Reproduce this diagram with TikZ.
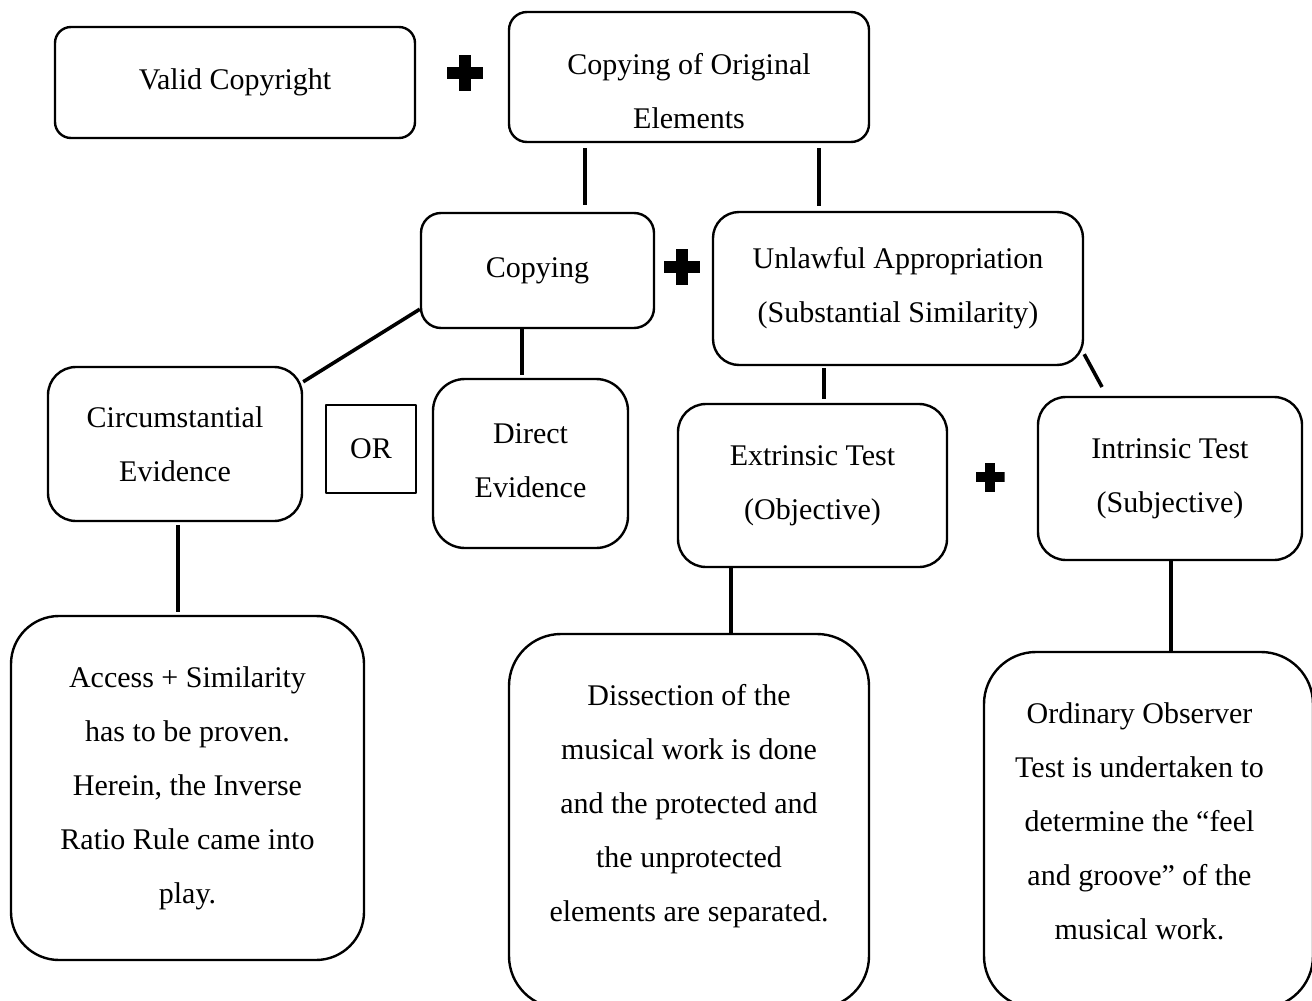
\documentclass[tikz,border=0pt]{standalone}
\usepackage{fontspec}
\setmainfont{Liberation Serif}
\usetikzlibrary{calc}

\tikzset{
    plussign/.style = {
        minimum size = #1,
        inner sep = 0pt,
        path picture = {
            \fill ($(path picture bounding box.south west)!0.32!(path picture bounding box.north west)$)
                rectangle ($(path picture bounding box.south east)!0.68!(path picture bounding box.north east)$);
            \fill ($(path picture bounding box.south west)!0.33!(path picture bounding box.south east)$)
                rectangle ($(path picture bounding box.north west)!0.67!(path picture bounding box.north east)$);
        }
    }
}

\begin{document}
\begin{tikzpicture}[
            x = 0.5pt, y = -0.5pt, % one unit = one pixel, y downwards
            font = \fontsize{15pt}{27pt}\selectfont,
            line join = round
        ]

        \tikzstyle{box}=[
            draw = black,
            line width = 1.2pt,
            align = center,
            inner sep = 0pt
        ]
        \tikzstyle{bigbox}=[box, rounded corners = 25pt]
        \tikzstyle{boxtext}=[align = center, inner sep = 0pt, font = \fontsize{15pt}{27pt}\selectfont]
        \tikzstyle{link}=[draw = black, line width = 1.8pt]

        \useasboundingbox (0,0) rectangle (1312,1001);
        \clip (0,0) rectangle (1312,1001);

        % top row
        \node[box, rounded corners = 8pt, minimum width = 180pt, minimum height = 55.5pt] (valid) at (235,82.5) {Valid Copyright};
        \node[box, rounded corners = 9pt, minimum width = 180pt, minimum height = 65pt,
              label = {[boxtext, yshift = -7pt]center:{Copying of Original\\Elements}}] (orig) at (689,77) {};

        % second row
        \node[box, rounded corners = 10pt, minimum width = 116.5pt, minimum height = 57.5pt] (cpy) at (537.5,270.5) {Copying};
        \node[box, rounded corners = 13pt, minimum width = 185pt, minimum height = 76.5pt] (unl) at (898,288.5) {Unlawful Appropriation\\(Substantial Similarity)};

        % third row
        \node[box, rounded corners = 14pt, minimum width = 127pt, minimum height = 77pt] (circ) at (175,444) {Circumstantial\\Evidence};
        \node[box, line width = 1pt, minimum width = 45pt, minimum height = 44pt] (or) at (371,449) {OR};
        \node[box, rounded corners = 16pt, minimum width = 97.5pt, minimum height = 84.5pt,
              label = {[boxtext, yshift = 1.5pt]center:{Direct\\Evidence}}] (dir) at (530.5,463.5) {};
        \node[box, rounded corners = 14pt, minimum width = 134.5pt, minimum height = 81.5pt] (ext) at (812.5,485.5) {Extrinsic Test\\(Objective)};
        \node[box, rounded corners = 14pt, minimum width = 132pt, minimum height = 81.5pt] (intr) at (1170,478.5) {Intrinsic Test\\(Subjective)};

        % bottom row
        \node[bigbox, rounded corners = 24pt, minimum width = 176.5pt, minimum height = 172pt] (acc) at (187.5,788)
            {Access + Similarity\\has to be proven.\\Herein, the Inverse\\Ratio Rule came into\\play.};
        \node[bigbox, rounded corners = 26pt, minimum width = 180pt, minimum height = 187pt,
              label = {[boxtext, yshift = 7.5pt]center:{Dissection of the\\musical work is done\\and the protected and\\the unprotected\\elements are separated.}}] (dis) at (689,821) {};
        \node[bigbox, rounded corners = 26pt, minimum width = 164.5pt, minimum height = 178pt,
              label = {[boxtext, xshift = -4.5pt, yshift = 4.5pt]center:{Ordinary Observer\\Test is undertaken to\\determine the ``feel\\and groove'' of the\\musical work.}}] (ord) at (1148.5,830) {};

        % plus signs
        \node[plussign = 18pt] (p1) at (465,73) {};
        \node[plussign = 18pt] (p2) at (682,267) {};
        \node[plussign = 14.5pt] (p3) at (990,477) {};

        % x positions of the vertical links
        \coordinate (jA) at (585,0);
        \coordinate (jB) at (819,0);
        \coordinate (jC) at (522,0);
        \coordinate (jD) at (824,0);
        \coordinate (jE) at (178,0);
        \coordinate (jF) at (731,0);
        \coordinate (jG) at (1171,0);

        \path[link] (orig.south -| jA) edge[shorten <= 2.5pt, shorten >= 3.5pt] (cpy.north -| jA);
        \path[link] (orig.south -| jB) edge[shorten <= 2.5pt, shorten >= 2.5pt] (unl.north -| jB);
        \path[link] ([yshift = 10pt]cpy.south west) edge ([yshift = -8pt]circ.north east);
        \path[link] (cpy.south -| jC) edge[shorten >= 1.5pt] (dir.north -| jC);
        \path[link] (unl.south -| jD) edge[shorten <= 1pt, shorten >= 2pt] (ext.north -| jD);
        \path[link] ([yshift = 6pt]unl.south east) edge[shorten >= 5pt] ([xshift = 35pt]intr.north west);
        \path[link] (circ.south -| jE) edge[shorten <= 1.5pt, shorten >= 1.5pt] (acc.north -| jE);
        \path[link] (ext.south -| jF) edge (dis.north -| jF);
        \path[link] (intr.south -| jG) edge (ord.north -| jG);
    \end{tikzpicture}
\end{document}
